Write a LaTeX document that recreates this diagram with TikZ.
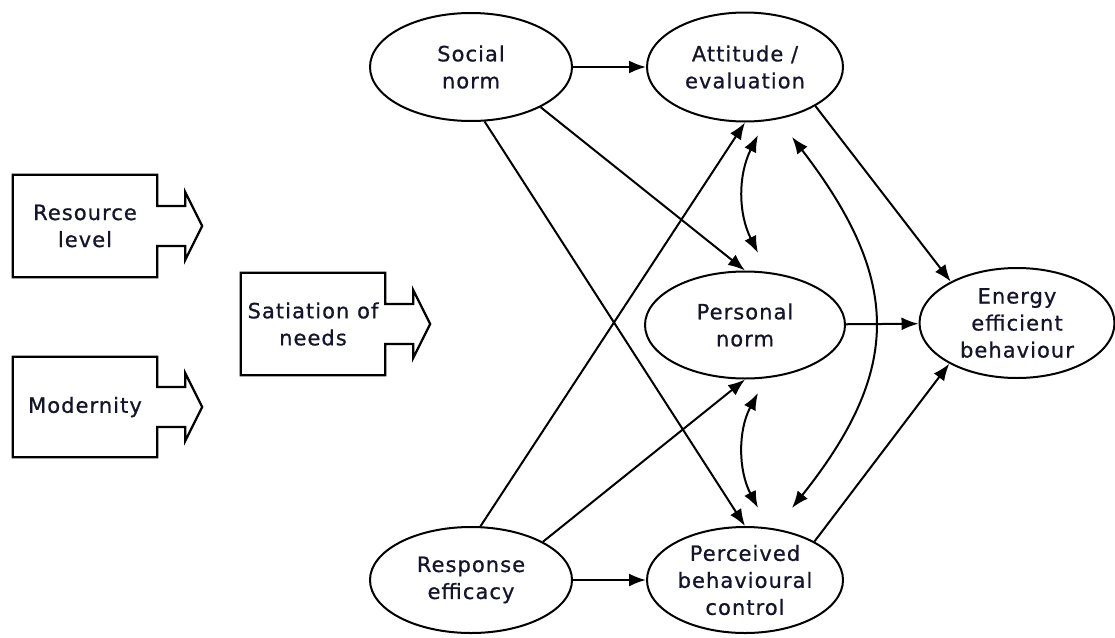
\documentclass[tikz,border=0pt]{standalone}
\usepackage{fontspec}
\setmainfont[LetterSpace=5,FakeBold=0.8]{DejaVu Sans}
\usetikzlibrary{shapes.geometric,arrows.meta,calc}
\newcommand\myarrowbox[1]{%
  \draw[boxline] (#1.north west) -- (#1.north east) -- ($(#1.east)+(0,-20)$)
    -- ($(#1.east)+(28,-20)$) -- ($(#1.east)+(28,-34)$) -- ($(#1.east)+(45,0)$)
    -- ($(#1.east)+(28,34)$) -- ($(#1.east)+(28,20)$) -- ($(#1.east)+(0,20)$)
    -- (#1.south east) -- (#1.south west) -- cycle;}
\begin{document}
\begin{tikzpicture}[x=1pt,y=-1pt,
  every node/.style={font=\fontsize{21}{27}\selectfont, align=center, text={rgb,255:red,20;green,20;blue,45}},
  oval/.style={ellipse, draw, line width=2pt, inner sep=0pt, minimum width=200pt, minimum height=107pt},
  boxtext/.style={inner sep=0pt, minimum width=144pt, minimum height=102pt},
  boxline/.style={line width=2.2pt, line join=miter},
  conn/.style={line width=2pt, -{Latex[length=17pt,width=13pt]}},
  dconn/.style={line width=2pt, {Latex[length=17pt,width=13pt]}-{Latex[length=17pt,width=13pt]}}]
\useasboundingbox (0,0) rectangle (1115,637);
% input boxes
\node[boxtext] (resource) at (85,226) {Resource\\level};
\node[boxtext, minimum height=100pt] (modernity) at (85,407) {Modernity};
\node[boxtext, minimum height=102pt] (satiation) at (313,324) {Satiation of\\needs};
\myarrowbox{resource}
\myarrowbox{modernity}
\myarrowbox{satiation}
% ellipses
\node[oval, minimum width=202pt, minimum height=108pt] (social) at (471,67) {Social\\norm};
\node[oval, minimum width=196pt, minimum height=109pt] (attitude) at (745,67) {Attitude /\\evaluation};
\node[oval] (personal) at (745,325) {Personal\\norm};
\node[oval, minimum width=196pt, minimum height=106pt] (perceived) at (745,580) {Perceived\\behavioural\\control};
\node[oval, minimum width=202pt, minimum height=106pt] (response) at (471,580) {Response\\efficacy};
\node[oval, minimum width=195pt, minimum height=110pt] (energy) at (1017,323) {Energy\\efficient\\behaviour};
% straight connectors
\draw[conn] (social) -- (attitude);
\draw[conn] (response) -- (perceived);
\draw[conn] (personal) -- (energy);
\draw[conn] (social.-30) -- (personal.north);
\draw[conn] (social.-76) -- (perceived.north);
\draw[conn] (response.80) -- (attitude.south);
\draw[conn] (response.28) -- (personal.south);
\draw[conn] (attitude.-29) -- (energy.148);
\draw[conn] (perceived.29) -- (energy.211);
% curved double connectors
\coordinate (a1) at (758,135);
\coordinate (p1) at (758,253);
\coordinate (p2) at (758,393);
\coordinate (c1) at (758,508);
\coordinate (a2) at (792,137);
\coordinate (c2) at (792,508);
\draw[dconn] (a1) .. controls (738,175) and (738,213) .. (p1);
\draw[dconn] (p2) .. controls (738,430) and (738,470) .. (c1);
\draw[dconn] (a2) .. controls (902,280) and (902,370) .. (c2);
\end{tikzpicture}
\end{document}
